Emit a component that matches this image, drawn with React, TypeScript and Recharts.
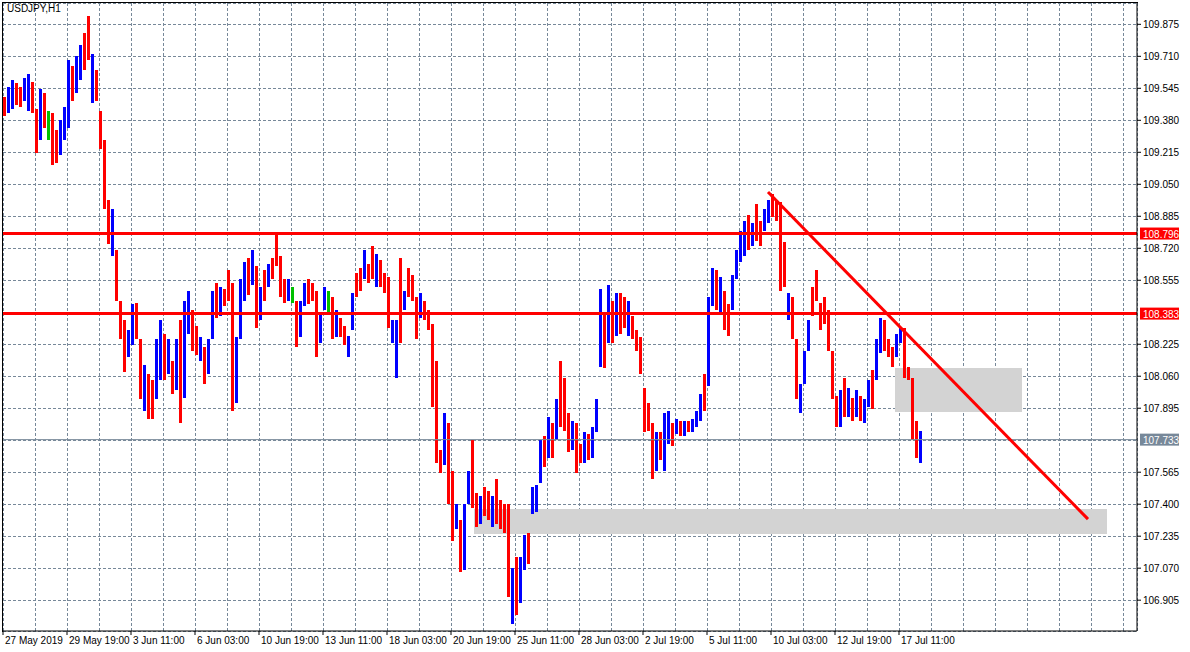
import React from "react";
import {
  ComposedChart, Bar, Cell, XAxis, YAxis, CartesianGrid,
  ReferenceLine, ReferenceArea,
} from "recharts";

const barHigh = [
  109.50, 109.55, 109.59, 109.57, 109.55, 109.60, 109.62, 109.58, 109.44, 109.54,
  109.52, 109.43, 109.42, 109.33, 109.38, 109.45, 109.69, 109.66, 109.71, 109.77,
  109.83, 109.92, 109.72, 109.64, 109.43, 109.28, 108.97, 108.92, 108.71, 108.45,
  108.35, 108.30, 108.43, 108.44, 108.25, 108.12, 108.07, 108.04, 108.25, 108.35,
  108.28, 108.25, 108.14, 108.25, 108.35, 108.45, 108.50, 108.40, 108.32, 108.26,
  108.21, 108.25, 108.50, 108.54, 108.52, 108.51, 108.61, 108.54, 108.26, 108.56,
  108.65, 108.67, 108.71, 108.63, 108.52, 108.61, 108.64, 108.67, 108.80, 108.68,
  108.56, 108.56, 108.52, 108.45, 108.45, 108.54, 108.56, 108.54, 108.50, 108.38,
  108.52, 108.50, 108.47, 108.40, 108.36, 108.32, 108.27, 108.49, 108.59, 108.62,
  108.71, 108.64, 108.73, 108.69, 108.66, 108.59, 108.57, 108.35, 108.35, 108.67,
  108.50, 108.62, 108.58, 108.47, 108.49, 108.45, 108.40, 108.33, 108.14, 107.68,
  107.87, 107.82, 107.57, 107.40, 107.32, 107.40, 107.57, 107.73, 107.46, 107.44,
  107.49, 107.47, 107.44, 107.53, 107.42, 107.40, 107.40, 107.07, 107.13, 107.13,
  107.24, 107.25, 107.49, 107.50, 107.73, 107.75, 107.85, 107.82, 107.94, 108.14,
  108.05, 107.87, 107.83, 107.82, 107.71, 107.77, 107.76, 107.80, 107.94, 108.51,
  108.38, 108.53, 108.45, 108.49, 108.49, 108.47, 108.45, 108.37, 108.30, 108.26,
  108.00, 107.92, 107.82, 107.77, 107.77, 107.87, 107.88, 107.82, 107.84, 107.83,
  107.83, 107.83, 107.84, 107.88, 107.97, 108.07, 108.47, 108.62, 108.61, 108.57,
  108.50, 108.43, 108.58, 108.71, 108.81, 108.86, 108.89, 108.85, 108.95, 108.86,
  108.92, 108.97, 109.00, 108.97, 108.96, 108.75, 108.49, 108.47, 108.25, 108.02,
  108.19, 108.35, 108.52, 108.61, 108.44, 108.47, 108.40, 108.19, 107.96, 107.99,
  108.05, 108.00, 107.95, 107.99, 107.96, 107.94, 108.04, 108.09, 108.25, 108.36,
  108.35, 108.25, 108.21, 108.28, 108.31, 108.31, 108.11, 108.05, 107.83, 107.78,
];

const barLow = [
  109.40, 109.42, 109.44, 109.46, 109.45, 109.48, 109.43, 109.42, 109.21, 109.28,
  109.34, 109.28, 109.15, 109.16, 109.20, 109.28, 109.34, 109.48, 109.52, 109.59,
  109.64, 109.69, 109.47, 109.48, 109.23, 108.92, 108.74, 108.68, 108.45, 108.25,
  108.08, 108.16, 108.22, 108.25, 107.94, 107.88, 107.84, 107.84, 107.94, 108.04,
  108.04, 108.07, 107.97, 107.99, 107.82, 107.95, 108.28, 108.19, 108.17, 108.14,
  108.02, 108.07, 108.25, 108.36, 108.37, 108.42, 108.45, 107.88, 107.92, 108.25,
  108.45, 108.48, 108.53, 108.31, 108.35, 108.45, 108.52, 108.56, 108.63, 108.47,
  108.44, 108.45, 108.44, 108.21, 108.26, 108.42, 108.43, 108.45, 108.16, 108.23,
  108.40, 108.39, 108.25, 108.26, 108.26, 108.22, 108.16, 108.30, 108.47, 108.50,
  108.56, 108.54, 108.56, 108.52, 108.52, 108.49, 108.31, 108.23, 108.05, 108.23,
  108.40, 108.47, 108.45, 108.25, 108.36, 108.35, 108.30, 107.90, 107.61, 107.56,
  107.60, 107.40, 107.21, 107.27, 107.05, 107.06, 107.40, 107.38, 107.28, 107.30,
  107.34, 107.32, 107.28, 107.30, 107.27, 107.25, 106.92, 106.78, 106.83, 106.89,
  107.06, 107.09, 107.35, 107.36, 107.51, 107.59, 107.64, 107.64, 107.73, 107.80,
  107.78, 107.67, 107.68, 107.56, 107.61, 107.61, 107.63, 107.64, 107.77, 108.11,
  108.10, 108.23, 108.23, 108.27, 108.28, 108.31, 108.27, 108.25, 108.19, 108.07,
  107.77, 107.78, 107.53, 107.57, 107.63, 107.57, 107.71, 107.70, 107.76, 107.75,
  107.75, 107.77, 107.77, 107.80, 107.83, 107.88, 108.01, 108.42, 108.40, 108.39,
  108.30, 108.27, 108.40, 108.56, 108.65, 108.68, 108.71, 108.73, 108.76, 108.73,
  108.81, 108.85, 108.88, 108.86, 108.50, 108.52, 108.35, 108.25, 107.94, 107.87,
  108.02, 108.19, 108.37, 108.45, 108.30, 108.33, 108.19, 107.94, 107.80, 107.80,
  107.85, 107.85, 107.83, 107.85, 107.83, 107.82, 107.90, 107.89, 108.04, 108.18,
  108.19, 108.16, 108.11, 108.16, 108.23, 108.05, 108.04, 107.73, 107.64, 107.61,
];

// u = up bar, d = down bar, g = unchanged
const barSide = (
  "duudduuddu" + "dgdduuuduu" + "dduddddudd" + "duuddudduu" + "dududuuddu" +
  "duududdduu" + "ududududdd" + "dugduudddu" + "ugdudduudd" + "udduddduud" +
  "uddduddddd" + "udduduuddu" + "dduddddudu" + "uduuududud" + "ddudduduuu" +
  "dududduddd" + "ddduduudud" + "uduuuduudu" + "dduuuududd" + "uudddduddu" +
  "uudddddddu" + "dududuuduu" + "ddduuddddu"
).split("");

const timeLabels = [
  "27 May 2019", "29 May 19:00", "3 Jun 11:00", "6 Jun 03:00", "10 Jun 19:00",
  "13 Jun 11:00", "18 Jun 03:00", "20 Jun 19:00", "25 Jun 11:00", "28 Jun 03:00",
  "2 Jul 19:00", "5 Jul 11:00", "10 Jul 03:00", "12 Jul 19:00", "17 Jul 11:00",
];

const priceTicks = [
  106.905, 107.07, 107.235, 107.4, 107.565, 107.73, 107.895, 108.06, 108.225, 108.39,
  108.555, 108.72, 108.885, 109.05, 109.215, 109.38, 109.545, 109.71, 109.875,
];

const levelUpper = 108.796;
const levelLower = 108.383;
const lastPrice = 107.733;

// trend line and the two zones (hours since 27 May 00:00, price)
const trendFrom = { x: 765, y: 109.01 };
const trendTo = { x: 1085, y: 107.323 };
const zoneUpper = { x1: 892, x2: 1019, y1: 107.875, y2: 108.102 };
const zoneLower = { x1: 471, x2: 1104, y1: 107.246, y2: 107.375 };

const data = barHigh.map((h, i) => ({
  hour: i * 4 + 2,
  range: [barLow[i], h],
  side: barSide[i],
}));

const gridHours = Array.from({ length: 36 }, (_, i) => i * 32);

const FONT = "'Liberation Sans', Arial, sans-serif";
const sideColor: Record<string, string> = { u: "#0000ff", d: "#ff0000", g: "#00c000" };

function HourTick(props: any) {
  const { x, y, payload } = props;
  const idx = payload.value / 64;
  if (!Number.isInteger(idx) || !timeLabels[idx]) return <g />;
  return (
    <g>
      <line x1={x} y1={y} x2={x} y2={y + 4} stroke="#000" />
      <text x={x + 2} y={y + 13} fontSize={10} fontFamily={FONT} fill="#000">
        {timeLabels[idx]}
      </text>
    </g>
  );
}

function PriceTick(props: any) {
  const { x, y, payload } = props;
  const v = payload.value;
  if (v === 107.73 || v === 108.39) return <g />;
  return (
    <g>
      <line x1={x} y1={y} x2={x + 4} y2={y} stroke="#000" />
      <text x={x + 6} y={y + 4} fontSize={10} fontFamily={FONT} fill="#000">
        {v.toFixed(3)}
      </text>
    </g>
  );
}

const priceTag = (value: number, bg: string) => (props: any) => {
  const vb = props.viewBox || {};
  const x = vb.x + vb.width + 3;
  const y = vb.y;
  return (
    <g>
      <rect x={x} y={y - 6} width={39} height={12} fill={bg} />
      <text x={x + 3} y={y + 4} fontSize={10} fontFamily={FONT} fill="#fff">
        {value.toFixed(3)}
      </text>
    </g>
  );
};

export default function App() {
  return (
    <div style={{ position: "absolute", left: 0, top: 0, width: 1190, height: 652, background: "#fff" }}>
      <style>{".recharts-cartesian-grid line, .recharts-bar-rectangle path, .recharts-reference-area rect { shape-rendering: crispEdges; }"}</style>
      <ComposedChart
        width={1190}
        height={652}
        data={data}
        margin={{ top: 3, right: 0, bottom: 0, left: 3 }}
      >
        <ReferenceArea {...zoneLower} fill="#d3d3d3" fillOpacity={1} stroke="none" ifOverflow="visible" />
        <ReferenceArea {...zoneUpper} fill="#d3d3d3" fillOpacity={1} stroke="none" ifOverflow="visible" />
        <CartesianGrid stroke="#778899" strokeDasharray="3 2" />
        <XAxis
          dataKey="hour"
          type="number"
          domain={[0, 1134]}
          allowDataOverflow
          ticks={gridHours}
          tick={<HourTick />}
          tickLine={false}
          tickSize={0}
          tickMargin={0}
          interval={0}
          height={21}
          axisLine={{ stroke: "#000" }}
        />
        <YAxis
          orientation="right"
          type="number"
          domain={[106.746, 109.985]}
          allowDataOverflow
          ticks={priceTicks}
          tick={<PriceTick />}
          tickLine={false}
          tickSize={0}
          tickMargin={0}
          interval={0}
          width={53}
          axisLine={{ stroke: "#000" }}
        />
        <Bar dataKey="range" barSize={3} isAnimationActive={false}>
          {data.map((d, i) => (
            <Cell key={i} fill={sideColor[d.side]} />
          ))}
        </Bar>
        <ReferenceLine y={lastPrice} stroke="#778899" strokeWidth={1} label={priceTag(lastPrice, "#778899")} />
        <ReferenceLine y={levelUpper} stroke="#ff0000" strokeWidth={3} label={priceTag(levelUpper, "#ff0000")} />
        <ReferenceLine y={levelLower} stroke="#ff0000" strokeWidth={3} label={priceTag(levelLower, "#ff0000")} />
        <ReferenceLine segment={[trendFrom, trendTo]} stroke="#ff0000" strokeWidth={3} ifOverflow="visible" />
      </ComposedChart>
      <div
        style={{
          position: "absolute", left: 2, top: 2, width: 1135, height: 629,
          borderTop: "1px solid #000", borderLeft: "1px solid #000", pointerEvents: "none",
        }}
      />
      <div
        style={{
          position: "absolute", left: 7, top: 3, fontSize: 10, fontFamily: FONT, color: "#000",
        }}
      >
        USDJPY,H1
      </div>
    </div>
  );
}
